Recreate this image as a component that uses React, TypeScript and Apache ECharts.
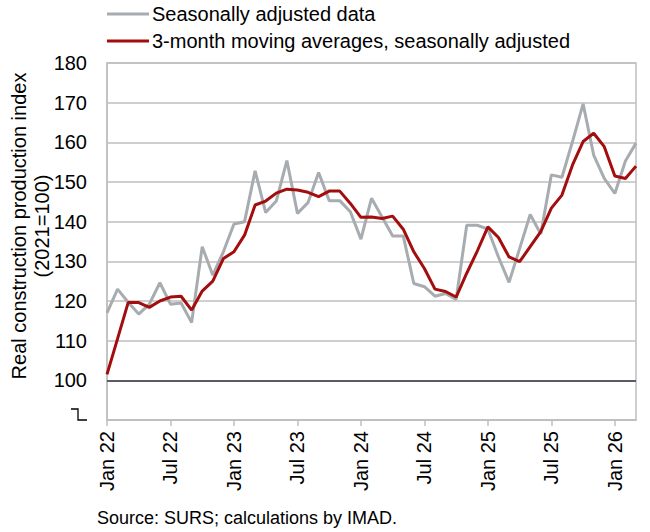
import React, { useEffect, useRef } from "react";
import * as echarts from "echarts";

const categories = [
  "Jan 22", "Feb 22", "Mar 22", "Apr 22", "May 22", "Jun 22", "Jul 22", "Aug 22", "Sep 22", "Oct 22", "Nov 22", "Dec 22",
  "Jan 23", "Feb 23", "Mar 23", "Apr 23", "May 23", "Jun 23", "Jul 23", "Aug 23", "Sep 23", "Oct 23", "Nov 23", "Dec 23",
  "Jan 24", "Feb 24", "Mar 24", "Apr 24", "May 24", "Jun 24", "Jul 24", "Aug 24", "Sep 24", "Oct 24", "Nov 24", "Dec 24",
  "Jan 25", "Feb 25", "Mar 25", "Apr 25", "May 25", "Jun 25", "Jul 25", "Aug 25", "Sep 25", "Oct 25", "Nov 25", "Dec 25",
  "Jan 26", "Feb 26", "Mar 26",
];

const seasonallyAdjusted = [
  117, 123, 119.7, 116.7, 119.2, 124.6, 119.2, 119.5, 114.6, 133.7, 126.5, 132.4,
  139.4, 140, 152.8, 142.3, 145.2, 155.4, 142.1, 144.8, 152.4, 145.3, 145.3, 142.5,
  135.6, 145.9, 141.2, 136.4, 136.4, 124.4, 123.6, 121.2, 121.9, 120.4, 139.1, 139.1,
  138.1, 131.1, 124.7, 133.2, 141.8, 136.9, 151.8, 151.2, 160.2, 169.7, 156.8, 150.9,
  147.1, 155.3, 159.8,
];

const movingAverage = [
  101.5, 110.5, 119.6, 119.6, 118.4, 120, 121, 121.2, 117.7, 122.5, 125, 130.7,
  132.4, 136.6, 144.2, 145.2, 147.2, 148.2, 148, 147.4, 146.3, 147.7, 147.7, 144.6,
  141.1, 141.2, 140.8, 141.4, 138.1, 132.4, 128.2, 123, 122.4, 121, 127, 132.6,
  138.7, 136, 131.1, 129.9, 133.7, 137.5, 143.4, 146.7, 154.3, 160.2, 162.3, 158.9,
  151.5, 150.9, 154,
];

const seriesNames = [
  "Seasonally adjusted data",
  "3-month moving averages, seasonally adjusted",
];

const yAxisTitle = ["Real construction production index", "(2021=100)"];
const sourceText = "Source: SURS; calculations by IMAD.";

const FONT = "'Liberation Sans', Arial, Helvetica, sans-serif";

export default function App() {
  const ref = useRef<HTMLDivElement>(null);

  useEffect(() => {
    document.body.style.margin = "0";
    if (!ref.current) return;
    const chart = echarts.init(ref.current, null, { renderer: "svg" });
    chart.setOption({
      animation: false,
      textStyle: { fontFamily: FONT },
      grid: {
        left: 107,
        right: 14,
        top: 63,
        bottom: 112,
        show: true,
        borderColor: "#bfbfbf",
        borderWidth: 1.5,
        containLabel: false,
      },
      legend: {
        orient: "vertical",
        left: 107,
        top: 4,
        padding: 0,
        itemWidth: 42,
        itemHeight: 3,
        itemGap: 7,
        icon: "rect",
        textStyle: { fontSize: 20, color: "#000", lineHeight: 20, fontFamily: FONT, padding: [0, 0, 0, -2] },
        data: seriesNames,
      },
      xAxis: {
        type: "category",
        data: categories,
        boundaryGap: false,
        axisLine: { show: true, lineStyle: { color: "#bfbfbf", width: 1.5 } },
        axisTick: { show: true, interval: 5, length: 6, lineStyle: { color: "#bfbfbf", width: 1.5 } },
        axisLabel: {
          interval: 5,
          rotate: 90,
          margin: 11,
          fontSize: 20,
          color: "#000",
          fontFamily: FONT,
        },
        splitLine: { show: false },
      },
      yAxis: {
        type: "value",
        min: 90,
        max: 180,
        interval: 10,
        axisLine: { show: true, lineStyle: { color: "#bfbfbf", width: 1.5 } },
        axisTick: { show: false },
        axisLabel: {
          margin: 20,
          fontSize: 20,
          color: "#000",
          fontFamily: FONT,
          formatter: (v: number) => (v === 90 ? "" : String(v)),
        },
        splitLine: { show: true, lineStyle: { color: "#bfbfbf", width: 1.5 } },
      },
      series: [
        {
          name: seriesNames[0],
          type: "line",
          data: seasonallyAdjusted,
          showSymbol: false,
          symbol: "none",
          color: "#a7acb1",
          lineStyle: { color: "#a7acb1", width: 3 },
          z: 3,
          markLine: {
            silent: true,
            symbol: "none",
            label: { show: false },
            lineStyle: { color: "#595c62", width: 2, type: "solid" },
            data: [{ yAxis: 100 }],
          },
        },
        {
          name: seriesNames[1],
          type: "line",
          data: movingAverage,
          showSymbol: false,
          symbol: "none",
          color: "#a30d0d",
          lineStyle: { color: "#a30d0d", width: 3 },
          z: 4,
        },
      ],
      graphic: [
        {
          type: "text",
          x: 19,
          y: 226,
          rotation: Math.PI / 2,
          style: {
            text: yAxisTitle[0],
            font: `20px ${FONT}`,
            fill: "#000",
            textAlign: "center",
            textVerticalAlign: "middle",
          },
        },
        {
          type: "text",
          x: 42,
          y: 226,
          rotation: Math.PI / 2,
          style: {
            text: yAxisTitle[1],
            font: `20px ${FONT}`,
            fill: "#000",
            textAlign: "center",
            textVerticalAlign: "middle",
          },
        },
        {
          type: "polyline",
          shape: { points: [[71, 409], [78, 409], [78, 420], [87, 420]] },
          style: { stroke: "#000", lineWidth: 1.3, fill: null },
        },
        {
          type: "text",
          x: 97,
          y: 518,
          style: {
            text: sourceText,
            font: `18px ${FONT}`,
            fill: "#000",
            textAlign: "left",
            textVerticalAlign: "middle",
          },
        },
      ],
    });
    return () => chart.dispose();
  }, []);

  return <div ref={ref} style={{ width: 650, height: 532 }} />;
}
